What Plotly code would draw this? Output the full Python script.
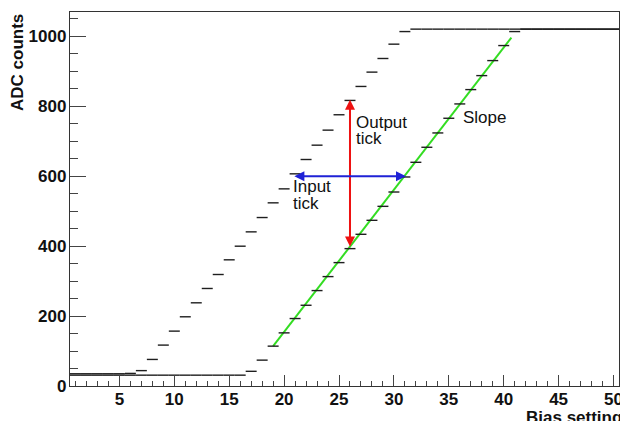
import plotly.graph_objects as go

# ---- data ----
bins = list(range(1, 51))
scan_a = [35, 35, 35, 35, 35, 36, 44, 76, 117, 157, 198, 238, 279, 319, 361, 400, 441, 482, 524, 564,
          607, 648, 689, 732, 776, 817, 857, 898, 937, 978, 1014] + [1021] * 19
scan_b = [31] * 16 + [42, 74, 114, 152, 193, 231, 273, 313, 353, 393, 434, 474, 514, 555, 598, 640,
                      683, 724, 766, 807, 848, 888, 931, 974, 1014] + [1021] * 9
fit_x = [19, 40.7]
fit_y = [114, 997]
output_tick_x = 26
output_tick_y = [395, 819]
input_tick_x = [20.8, 31.1]
input_tick_y = 600
x_ticks = [5, 10, 15, 20, 25, 30, 35, 40, 45, 50]
y_ticks = [0, 200, 400, 600, 800, 1000]

FONT = "Liberation Sans, Arial, sans-serif"
W, H = 620, 421
ML, MR, MT, MB = 70, 1, 12, 35
XR = [0.5, 50.5]
YR = [0, 1070]

fig = go.Figure()
fig.add_trace(go.Scatter(x=fit_x, y=fit_y, mode="lines",
                         line=dict(color="#33dd22", width=2), showlegend=False))
for vals in (scan_a, scan_b):
    fig.add_trace(go.Scatter(
        x=bins, y=vals, mode="markers",
        marker=dict(size=1, color="rgba(0,0,0,0)"),
        error_x=dict(type="constant", value=0.5, width=0, thickness=1.4, color="#1e1e1e"),
        showlegend=False))

ann = []
# arrows
ann.append(dict(x=output_tick_x, y=output_tick_y[1], ax=output_tick_x, ay=output_tick_y[0],
                xref="x", yref="y", axref="x", ayref="y", text="", showarrow=True,
                arrowside="end+start", arrowhead=2, arrowsize=1.0, arrowwidth=2,
                arrowcolor="#ee1111", standoff=0, startstandoff=0))
ann.append(dict(x=input_tick_x[1], y=input_tick_y, ax=input_tick_x[0], ay=input_tick_y,
                xref="x", yref="y", axref="x", ayref="y", text="", showarrow=True,
                arrowside="end+start", arrowhead=2, arrowsize=1.0, arrowwidth=2,
                arrowcolor="#1f22d6", standoff=0, startstandoff=0))
# text labels
labels = [("Output", 26.4, 755), ("tick", 26.4, 708), ("Input", 20.6, 570),
          ("tick", 20.6, 521), ("Slope", 36.1, 769)]
for t, lx, ly in labels:
    ann.append(dict(x=lx, y=ly, xref="x", yref="y", text=t, showarrow=False,
                    xanchor="left", yanchor="middle",
                    font=dict(family=FONT, size=17, color="#111")))
# axis titles
pw = W - ML - MR
ph = H - MT - MB
ann.append(dict(x=(17.5 - ML) / pw, y=1.0, xref="paper", yref="paper", text="ADC counts",
                textangle=-90, showarrow=False, xanchor="center", yanchor="top",
                font=dict(family=FONT, size=17, color="#111", weight="bold")))
ann.append(dict(x=(524 - ML) / pw, y=(H - MB - 417) / ph, xref="paper", yref="paper",
                text="Bias setting", showarrow=False, xanchor="left", yanchor="middle",
                font=dict(family=FONT, size=17, color="#111", weight="bold")))

axis_common = dict(showline=True, linecolor="#333", linewidth=1.2, mirror=True,
                   ticks="inside", tickcolor="#444", tickwidth=1, showgrid=False,
                   zeroline=False, automargin=False, ticklabeloverflow="allow",
                   tickfont=dict(family=FONT, size=17, color="#111", weight="bold"))
fig.update_layout(
    width=W, height=H,
    margin=dict(l=ML, r=MR, t=MT, b=MB, autoexpand=False),
    paper_bgcolor="white", plot_bgcolor="white",
    xaxis=dict(range=XR, tickvals=x_ticks, ticklen=11, ticklabelstandoff=-3,
               minor=dict(ticks="inside", dtick=1, tick0=0, ticklen=5, tickcolor="#444"),
               **axis_common),
    yaxis=dict(range=YR, tickvals=y_ticks, ticklen=16, ticklabelstandoff=-1,
               minor=dict(ticks="inside", dtick=50, tick0=0, ticklen=8, tickcolor="#444"),
               **axis_common),
    annotations=ann,
)
fig.write_html("out.html", config={"displayModeBar": False, "staticPlot": True})

# remove the browser's default page margin so the figure sits at the window origin
with open("out.html", encoding="utf-8") as f:
    html = f.read()
html = html.replace("<head>", "<head><style>html,body{margin:0;padding:0;overflow:hidden;}</style>", 1)
with open("out.html", "w", encoding="utf-8") as f:
    f.write(html)
